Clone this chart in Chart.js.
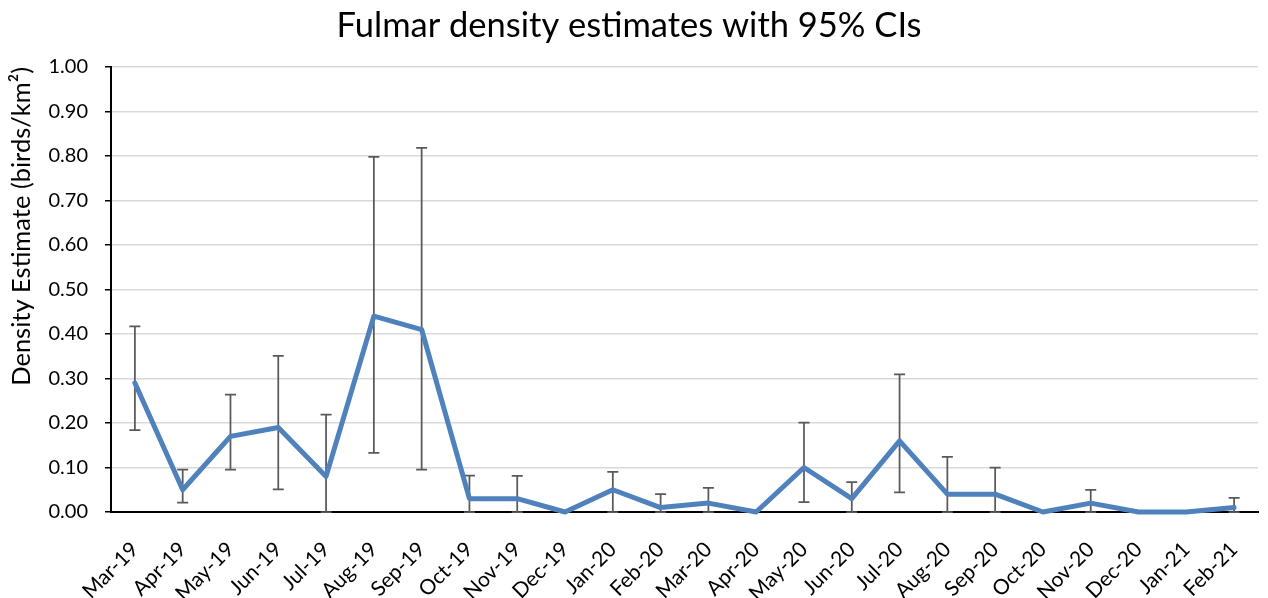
<!DOCTYPE html>
<html>
<head>
<meta charset="utf-8">
<script src="https://cdn.jsdelivr.net/npm/chart.js@4"></script>
<style>
  body { margin: 0; background: #fff; }
  #wrap { width: 1268px; height: 598px; }
</style>
</head>
<body>
<div id="wrap"><canvas id="fulmarChart"></canvas></div>
<script>
const months = ["Mar-19", "Apr-19", "May-19", "Jun-19", "Jul-19", "Aug-19", "Sep-19", "Oct-19",
  "Nov-19", "Dec-19", "Jan-20", "Feb-20", "Mar-20", "Apr-20", "May-20", "Jun-20", "Jul-20",
  "Aug-20", "Sep-20", "Oct-20", "Nov-20", "Dec-20", "Jan-21", "Feb-21"];
const density = [0.29, 0.05, 0.17, 0.19, 0.08, 0.44, 0.41, 0.03, 0.03, 0, 0.05, 0.01,
  0.02, 0, 0.10, 0.03, 0.16, 0.04, 0.04, 0, 0.02, 0, 0, 0.01];
const upperCI = [0.417, 0.095, 0.264, 0.351, 0.219, 0.798, 0.818, 0.082, 0.081, 0, 0.090, 0.040,
  0.054, 0, 0.201, 0.067, 0.309, 0.124, 0.100, 0, 0.050, 0, 0, 0.032];
const lowerCI = [0.184, 0.021, 0.095, 0.051, 0, 0.133, 0.095, 0, 0, 0, 0, 0,
  0, 0, 0.022, 0, 0.044, 0, 0, 0, 0, 0, 0, 0];

const fontFam = "Lato, 'Noto Sans', sans-serif";

// draws the CI whiskers using the chart's own scales
const errorBars = {
  id: "errorBars",
  beforeDatasetsDraw(chart) {
    const ctx = chart.ctx;
    const xs = chart.scales.x, ys = chart.scales.y;
    ctx.save();
    ctx.strokeStyle = "#595959";
    ctx.lineWidth = 1.75;
    months.forEach((m, i) => {
      if (upperCI[i] === lowerCI[i]) return;
      const x = xs.getPixelForValue(i);
      const yTop = ys.getPixelForValue(upperCI[i]);
      const yBot = ys.getPixelForValue(lowerCI[i]);
      ctx.beginPath();
      ctx.moveTo(x, yTop); ctx.lineTo(x, yBot);
      ctx.moveTo(x - 5.5, yTop); ctx.lineTo(x + 5.5, yTop);
      ctx.moveTo(x - 5.5, yBot); ctx.lineTo(x + 5.5, yBot);
      ctx.stroke();
    });
    ctx.restore();
  }
};

new Chart(document.getElementById("fulmarChart"), {
  type: "line",
  data: {
    labels: months,
    datasets: [{
      label: "Density",
      data: density,
      borderColor: "#4F81BD",
      borderWidth: 5,
      borderJoinStyle: "round",
      borderCapStyle: "round",
      pointRadius: 0,
      tension: 0,
      clip: false
    }]
  },
  options: {
    responsive: true,
    maintainAspectRatio: false,
    animation: false,
    layout: { padding: { left: 0, right: 10, top: 0, bottom: 0 } },
    plugins: {
      legend: { display: false },
      tooltip: { enabled: false },
      title: {
        display: true,
        text: "Fulmar density estimates with 95% CIs",
        color: "#000",
        font: { family: fontFam, size: 34.5, weight: "normal" },
        padding: { top: 5, bottom: 20.6 }
      }
    },
    scales: {
      x: {
        offset: true,
        grid: { display: false, drawTicks: false },
        border: { display: true, color: "#000", width: 2 },
        ticks: {
          color: "#000",
          font: { family: fontFam, size: 21 },
          minRotation: 45,
          maxRotation: 45,
          autoSkip: false,
          padding: 25
        },
        afterFit(s) { s.height = 86; s.paddingRight = 0; }
      },
      y: {
        min: 0,
        max: 1,
        ticks: {
          stepSize: 0.1,
          color: "#000",
          font: { family: fontFam, size: 20 },
          padding: 17,
          callback: v => v.toFixed(2)
        },
        grid: { color: "#d9d9d9", lineWidth: 1.5, tickColor: "#000", tickLength: 6 },
        border: { color: "#000", width: 2 },
        title: {
          display: true,
          text: "Density Estimate (birds/km²)",
          align: "end",
          color: "#000",
          font: { family: fontFam, size: 25.5 },
          padding: { top: 6, bottom: 0 }
        },
        afterFit(s) { s.width = 111; }
      }
    }
  },
  plugins: [errorBars]
});
</script>
</body>
</html>
